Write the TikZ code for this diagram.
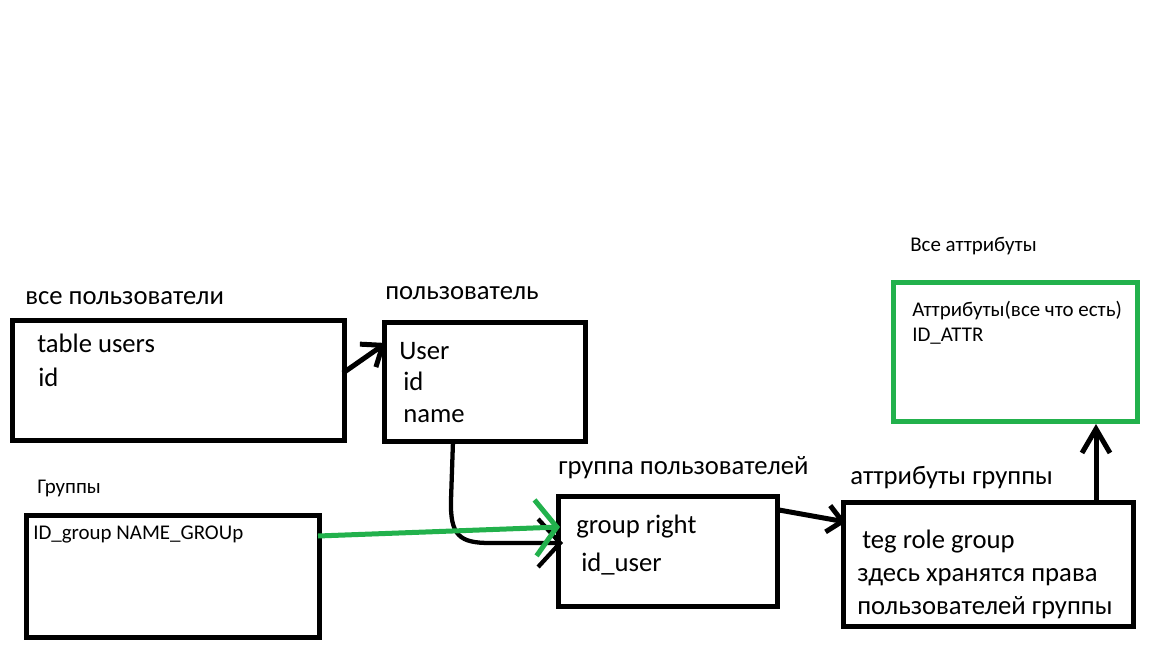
\documentclass[tikz,border=0pt]{standalone}
\usepackage{fontspec}
\setmainfont{Carlito}
\usetikzlibrary{arrows.meta,calc}
\newdimen\pxu \pxu=0.75pt
\definecolor{pgreen}{HTML}{22B14C}
\begin{document}
\begin{tikzpicture}[x=0.75pt,y=-0.75pt,
  box/.style={draw, line width=3.75pt, inner sep=0pt, outer sep=0pt, anchor=north west},
  big/.style={font=\fontsize{20}{24}\selectfont, inner sep=0pt, anchor=base west},
  small/.style={font=\fontsize{15.7}{19}\selectfont, inner sep=0pt, anchor=base west},
  conn/.style={line width=3.75pt},
  tipA/.style={-{Straight Barb[length=13.5pt,width=21pt]}},
  tipB/.style={-{Straight Barb[length=11pt,width=20pt]}},
  tipUp/.style={-{Straight Barb[length=18pt,width=21pt]}},
  tipCurve/.style={-{Straight Barb[length=16.5pt,width=36pt]}},
  tipGreen/.style={-{Straight Barb[length=16pt,width=42pt]}},
]
\useasboundingbox[fill=white] (0,0) rectangle (1152,648);

% boxes
\node[box, minimum width=332\pxu, minimum height=119\pxu] (b1) at (12,321) {};
\node[box, minimum width=201\pxu, minimum height=118\pxu] (b2) at (384,323) {};
\node[box, minimum width=293\pxu, minimum height=122\pxu] (b3) at (26,515) {};
\node[box, minimum width=219\pxu, minimum height=110\pxu] (b4) at (558,496) {};
\node[box, minimum width=290\pxu, minimum height=124\pxu] (b5) at (843,502) {};
\node[box, draw=pgreen, minimum width=244\pxu, minimum height=138\pxu] (b6) at (893,283) {};

% labels
\node[big] (t1) at (25,305) {все пользователи};
\node[big] (t1a) at (37,353) {table users};
\node[big] (t1b) at (38,386) {id};
\node[big] (t2) at (385,300) {пользователь};
\node[big] (t2a) at (399,359) {User};
\node[big] (t2b) at (403,390) {id};
\node[big] (t2c) at (403,422) {name};
\node[small] (t3) at (37,493) {Группы};
\node[small] (t3a) at (33,539) {ID\_group NAME\_GROUp};
\node[big] (t4) at (558,474) {группа пользователей};
\node[big] (t4a) at (576,533) {group right};
\node[big] (t4b) at (581,571) {id\_user};
\node[big] (t5) at (850,484) {аттрибуты группы};
\node[big] (t5a) at (862,548) {teg role group};
\node[big] (t5b) at (857,581) {здесь хранятся права};
\node[big] (t5c) at (857,614) {пользователей группы};
\node[small] (t6) at (910,252) {Все аттрибуты};
\node[small] (t6a) at (912,316) {Аттрибуты(все что есть)};
\node[small] (t6b) at (912,341) {ID\_ATTR};

% connectors
\draw[conn, tipA] ($(b1.north east)+(-1,52)$) -- ($(b2.north west)+(2,20)$);
\draw[conn, line width=3.2pt, tipCurve] ($(b2.south west)+(69,0)$) -- (451,500)
  .. controls (450,536) and (460,543) .. (490,543) -- ($(b4.north west)+(5,47)$);
\draw[conn, pgreen, tipGreen] ($(b3.north east)+(-1,21)$) -- ($(b4.north west)+(2,31)$);
\draw[conn, tipB] ($(b4.north east)+(2,14)$) -- ($(b5.north west)+(3,20)$);
\draw[conn, tipUp] ($(b5.north east)+(-37,-1)$) -- ($(b6.south east)+(-41,3)$);
\end{tikzpicture}
\end{document}
